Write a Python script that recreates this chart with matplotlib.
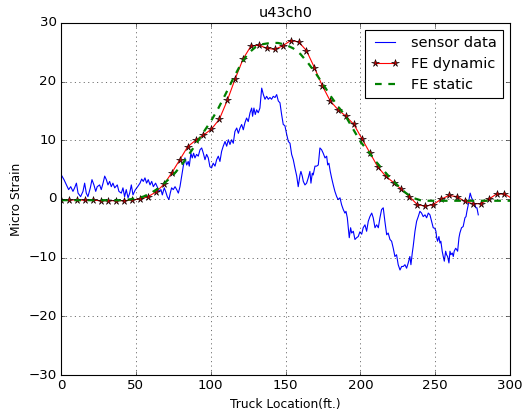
import numpy as np
import matplotlib
matplotlib.use('Agg')
import matplotlib.pyplot as plt

# sensor strain trace (ft, micro strain)
sensor_x = [
    0.2, 2.0, 3.6, 5.1, 6.5, 8.0, 9.1, 10.3, 11.4, 13.1, 14.7, 15.8, 16.9,
    18.0, 19.6, 20.7, 22.0, 23.2, 24.2, 25.8, 26.9, 28.1, 29.2, 30.3, 31.4,
    32.5, 33.6, 34.7, 35.9, 37.6, 38.7, 40.3, 41.4, 42.5, 43.6, 44.8, 45.9,
    47.0, 48.1, 49.5, 51.2, 52.8, 53.9, 55.0, 56.1, 57.2, 58.3, 59.5, 60.6,
    61.7, 63.2, 64.6, 65.5, 66.8, 67.7, 69.0, 69.9, 71.0, 72.1, 73.0, 73.9,
    75.0, 76.2, 77.3, 78.4, 79.5, 80.6, 81.7, 82.8, 84.0, 85.0, 85.7, 86.8,
    87.7, 88.6, 89.5, 90.6, 91.7, 92.9, 94.0, 95.1, 96.2, 97.3, 98.4, 99.5,
    100.6, 101.7, 102.9, 104.0, 105.1, 106.2, 107.3, 108.4, 109.6, 110.7,
    111.8, 112.9, 114.0, 115.1, 116.2, 117.4, 118.5, 119.6, 120.7, 121.8,
    122.9, 124.0, 125.1, 126.3, 127.4, 128.0, 128.9, 129.8, 130.7, 131.8,
    132.9, 134.1, 135.2, 136.3, 137.4, 138.5, 139.6, 140.7, 141.8, 143.0,
    144.1, 145.2, 146.3, 147.4, 148.5, 149.6, 150.8, 151.9, 153.0, 154.1,
    155.2, 156.3, 157.5, 158.5, 159.7, 160.3, 161.2, 161.9, 163.0, 164.1,
    165.2, 166.3, 167.0, 167.9, 168.5, 169.7, 170.8, 171.9, 173.0, 174.1,
    175.2, 176.4, 177.5, 178.2, 179.0, 179.9, 180.8, 181.9, 183.0, 184.2,
    185.2, 186.4, 187.5, 188.6, 189.7, 190.4, 191.3, 191.9, 192.6, 193.5,
    194.2, 195.3, 196.4, 197.5, 198.6, 199.7, 200.9, 201.9, 203.1, 204.2,
    205.3, 206.4, 207.6, 208.6, 209.8, 210.9, 212.0, 213.1, 214.2, 215.3,
    216.4, 217.6, 218.6, 219.8, 220.9, 222.0, 223.1, 224.2, 225.3, 226.5,
    227.6, 228.7, 229.8, 230.9, 232.0, 233.1, 233.8, 234.7, 235.3, 236.5,
    237.6, 238.7, 239.8, 240.9, 242.0, 243.2, 244.3, 245.4, 246.5, 247.6,
    248.7, 249.8, 250.5, 251.0, 251.6, 252.5, 253.2, 253.8, 254.7, 255.4,
    256.1, 257.0, 257.6, 258.3, 259.2, 259.9, 260.5, 261.4, 262.1, 262.7,
    263.7, 264.3, 265.0, 265.9, 266.5, 267.6, 268.7, 269.4, 269.9, 270.6,
    271.2, 272.1, 272.8, 273.4, 274.3, 275.0, 275.7, 276.6, 277.2, 277.9,
    278.8,
]
sensor_y = [
    4.1, 3.3, 2.4, 1.6, 2.1, 1.3, 1.9, 2.7, 1.0, 0.4, 1.3, 2.7, 1.0,
    0.4, 1.9, 3.3, 2.4, 1.3, 2.1, 2.4, 1.6, 2.7, 3.9, 3.3, 2.4,
    3.0, 2.1, 2.7, 1.9, 2.4, 1.3, 1.0, 1.9, 0.4, 1.6, 0.2, 1.0,
    2.4, 0.7, 1.5, 2.1, 2.7, 3.4, 3.0, 3.6, 2.7, 3.3, 2.4, 3.0,
    2.1, 2.7, 1.9, 1.3, 1.6, 0.7, 1.9, 1.3, 0.4, -0.1, 1.0, 1.9,
    1.6, 2.1, 1.6, 1.0, 2.1, 3.9, 5.6, 7.0, 5.8, 6.4, 5.6, 7.8,
    7.0, 7.8, 7.0, 7.6, 7.3, 8.4, 8.7, 7.8, 6.7, 7.6, 7.0, 5.5,
    5.3, 6.1, 5.6, 6.7, 7.3, 6.4, 8.1, 9.0, 9.8, 9.0,
    10.1, 9.3, 10.1, 9.5, 11.5, 12.1, 11.2, 12.1, 12.7, 11.8,
    13.0, 13.8, 13.2, 14.7, 15.5, 14.1, 15.5, 14.4, 15.2, 14.7,
    15.5, 18.9, 17.8, 17.0, 17.5, 17.0, 17.3, 17.0, 17.5, 17.3,
    17.8, 16.7, 16.4, 14.4, 12.7, 12.5, 11.0, 9.8, 9.5, 7.6,
    6.7, 5.3, 3.9, 2.1, 4.1, 4.7, 3.9, 3.0, 2.4, 2.7,
    3.6, 4.7, 2.7, 4.4, 4.1, 5.6, 5.6, 5.8, 8.7, 8.4,
    7.8, 7.0, 7.3, 5.8, 6.1, 4.7, 3.6, 2.4, 1.3, 0.4,
    -0.1, 0.2, -1.0, -1.8, -2.4, -2.1, -3.2, -4.7, -6.6, -4.9,
    -5.8, -5.5, -6.9, -6.6, -6.4, -5.6, -6.0, -4.9, -4.4, -5.5,
    -3.8, -3.0, -2.4, -3.2, -4.9, -4.4, -4.9, -3.2, -1.8, -1.5,
    -3.8, -6.1, -5.8, -6.9, -7.2, -8.4, -9.8, -9.5, -11.2, -12.1,
    -11.5, -11.5, -11.2, -11.8, -10.9, -9.8, -11.2, -9.2, -8.1, -5.5,
    -3.8, -3.0, -2.1, -2.4, -3.0, -2.7, -3.2, -2.4, -2.7, -3.8,
    -4.9, -5.0, -5.5, -6.6, -7.2, -6.4, -7.5, -7.2, -8.9, -9.8,
    -10.6, -8.9, -9.5, -9.8, -10.9, -8.9, -9.5, -9.2, -9.8, -8.9,
    -8.4, -8.6, -8.9, -6.6, -5.8, -4.9, -4.7, -3.8, -3.2, -3.0,
    -2.1, -1.0, 0.2, 1.0, 0.2, -0.1, -0.7, -1.0, -1.5, -1.5,
    -2.7,
]

# FE dynamic model (marker stations + line end at 300 ft)
dyn_x = [
    0.0, 5.3, 10.6, 15.9, 21.2, 26.5, 31.7, 37.0, 42.3, 47.6, 52.9, 58.2,
    63.5, 68.8, 74.1, 79.4, 84.6, 89.9, 95.2, 100.5, 105.8, 111.1, 116.4,
    121.7, 127.0, 132.3, 137.5, 142.8, 148.1, 153.4, 158.7, 164.0, 169.3,
    174.6, 179.9, 185.2, 190.4, 195.7, 201.0, 206.3, 211.6, 216.9, 222.2,
    227.5, 232.8, 238.1, 243.3, 248.6, 253.9, 259.2, 264.5, 269.8, 275.1,
    280.4, 285.7, 291.0, 296.3, 300.0,
]
dyn_y = [
    -0.17, -0.17, -0.17, -0.2, -0.2, -0.29, -0.29, -0.29, -0.29, -0.17,
    0.0, 0.4, 1.2, 2.5, 4.5, 6.7, 8.9, 10.0, 10.9, 11.9, 13.6, 16.8, 20.5,
    23.9, 26.1, 26.2, 25.7, 25.5, 26.1, 27.0, 26.8, 25.3, 22.4, 19.3,
    16.7, 15.2, 14.1, 12.7, 10.3, 7.9, 5.5, 3.9, 2.8, 1.65, 0.4, -0.97,
    -1.2, -0.97, -0.05, 0.6, 0.4, -0.4, -0.8, -0.8, -0.05, 0.85, 0.85,
    0.3,
]

# FE static model
stat_x = [
    0, 5, 10, 15, 20, 25, 30, 35, 40, 45, 50, 55, 60, 65, 70, 75, 80, 85,
    90, 95, 100, 105, 110, 115, 120, 125, 130, 135, 140, 145, 150, 155,
    160, 165, 170, 175, 180, 185, 190, 195, 200, 205, 210, 215, 220, 225,
    230, 235, 240, 245, 250, 260, 270, 280, 290, 300,
]
stat_y = [
    -0.2, -0.2, -0.2, -0.2, -0.2, -0.2, -0.2, -0.2, -0.2, -0.1, 0.1, 0.4,
    1.0, 1.8, 2.9, 4.1, 5.6, 7.4, 9.3, 11.3, 13.2, 15.4, 17.9, 20.5, 22.9,
    24.8, 25.9, 26.4, 26.6, 26.6, 26.3, 25.7, 24.7, 23.2, 21.5, 19.6,
    17.6, 15.8, 14.2, 12.0, 9.8, 8.2, 6.5, 5.0, 3.6, 2.3, 1.1, 0.2, -0.2,
    -0.3, -0.3, -0.3, -0.3, -0.3, -0.3, -0.3,
]

plt.style.use('classic')
fig = plt.figure(figsize=(6.55, 5.15), dpi=80)
ax = fig.add_axes([0.1164, 0.0898, 0.8569, 0.8544])

ax.plot(sensor_x, sensor_y, 'b-', lw=1, label='sensor data')
ax.plot(dyn_x, dyn_y, 'r-', marker='*', ms=7, mfc='#c00000', mec='k',
        mew=0.5, markevery=list(range(len(dyn_x) - 1)), label='FE dynamic')
ax.plot(stat_x, stat_y, 'g--', lw=2, label='FE static')

ax.set_xlim(0, 300)
ax.set_ylim(-30, 30)
ax.set_xticks(np.arange(0, 301, 50))
ax.set_yticks(np.arange(-30, 31, 10))
ax.grid(True)
ax.set_title('u43ch0', fontsize=13)
ax.set_xlabel('Truck Location(ft.)', fontsize=11)
ax.set_ylabel('Micro Strain', fontsize=11)
ax.tick_params(labelsize=12)
ax.legend(loc='upper right', fontsize=13)

fig.savefig('out.png', dpi=80, facecolor='white')
